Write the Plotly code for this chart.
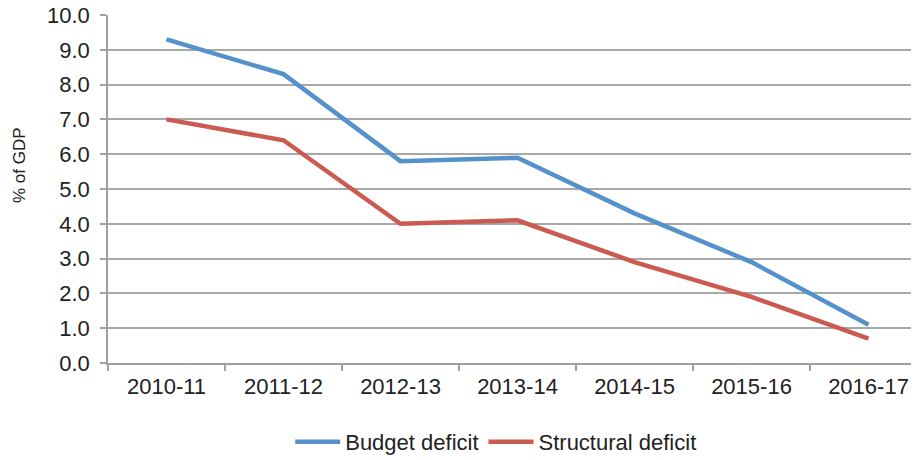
import plotly.graph_objects as go

years = ["2010-11", "2011-12", "2012-13", "2013-14", "2014-15", "2015-16", "2016-17"]
budget_deficit = [9.3, 8.3, 5.8, 5.9, 4.3, 2.9, 1.1]
structural_deficit = [7.0, 6.4, 4.0, 4.1, 2.9, 1.9, 0.7]
y_ticks = [0, 1, 2, 3, 4, 5, 6, 7, 8, 9, 10]
y_tick_labels = [f"{v:.1f}" for v in y_ticks]
y_title = "% of GDP"

FONT = "Liberation Sans, Arial, sans-serif"
fig = go.Figure()
fig.add_trace(go.Scatter(x=years, y=budget_deficit, mode="lines", name="Budget deficit",
                         line=dict(color="#5591CA", width=4.5)))
fig.add_trace(go.Scatter(x=years, y=structural_deficit, mode="lines", name="Structural deficit",
                         line=dict(color="#CB5A50", width=4.5)))

# the page body keeps its default 8px margin; the figure is offset to compensate
fig.update_layout(
    width=919, height=460,
    margin=dict(l=100, r=0, t=7, b=105),
    plot_bgcolor="white", paper_bgcolor="white",
    font=dict(family=FONT, size=22, color="#222222"),
    showlegend=True,
    legend=dict(orientation="h", x=0.474, xanchor="center", y=-0.227, yanchor="middle",
                font=dict(size=22, family=FONT, color="#222222"),
                itemwidth=45, traceorder="normal"),
    xaxis=dict(type="category", range=[-0.5, 6.5], showgrid=False, automargin=False,
               showline=True, linecolor="#A0A0A0", linewidth=1.5,
               ticks="outside", ticklen=6, tickcolor="#A0A0A0", tickwidth=1.5,
               tickson="boundaries", tickfont=dict(size=22), zeroline=False,
               ticklabelstandoff=3),
    yaxis=dict(range=[0, 10], tickvals=y_ticks, ticktext=y_tick_labels, automargin=False,
               showgrid=True, gridcolor="#A8A8A8", gridwidth=1.5,
               showline=True, linecolor="#A0A0A0", linewidth=1.5,
               ticks="outside", ticklen=6, tickcolor="#A0A0A0", tickwidth=1.5,
               zeroline=False, tickfont=dict(size=22), ticklabelstandoff=6,
               ticklabeloverflow="allow"),
    annotations=[dict(text=y_title, xref="paper", yref="paper", x=-0.1074, y=0.569,
                      xanchor="center", yanchor="middle", textangle=-90, showarrow=False,
                      font=dict(size=17, family=FONT, color="#222222"))],
)

fig.write_html(
    "out.html",
    config={"displayModeBar": False},
    post_script="document.querySelectorAll('.main-svg').forEach(function(s){s.style.overflow='visible';});",
)
